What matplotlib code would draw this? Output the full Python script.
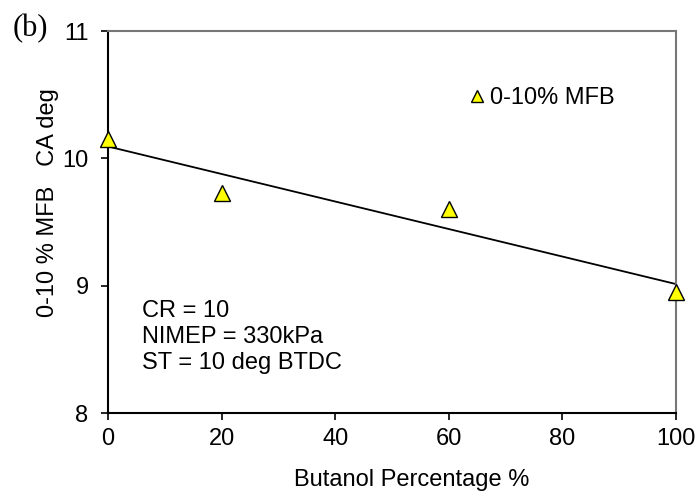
import matplotlib.pyplot as plt
import numpy as np

plt.rcParams['font.family'] = ['Liberation Sans', 'DejaVu Sans']

butanol = [0, 20, 60, 100]
mfb_0_10 = [10.15, 9.73, 9.6, 8.95]

fig = plt.figure(figsize=(6.97, 4.93), dpi=100)
ax = fig.add_axes([0.155, 0.162, 0.815, 0.775])

# linear trend line
k, b = np.polyfit(butanol, mfb_0_10, 1)
xs = np.array([0, 100])
ax.plot(xs, k * xs + b, color='black', lw=1.3, zorder=2)
ax.plot(butanol, mfb_0_10, linestyle='none', marker='^', ms=11,
        mfc='#ffff00', mec='black', mew=1.0, clip_on=False, zorder=3,
        label='0-10% MFB')

ax.set_xlim(0, 100)
ax.set_ylim(8, 11)
ax.set_xticks([0, 20, 40, 60, 80, 100])
ax.set_yticks([8, 9, 10, 11])
ax.tick_params(direction='out', length=5, width=1.2, labelsize=17)
ax.tick_params(axis='y', pad=9)
ax.tick_params(axis='x', pad=6)
for s in ['left', 'bottom']:
    ax.spines[s].set_linewidth(1.5)
for s in ['top', 'right']:
    ax.spines[s].set_color('#777777')
    ax.spines[s].set_linewidth(1.5)

ax.set_xlabel('Butanol Percentage %', fontsize=17)
ax.xaxis.set_label_coords(0.534, -0.145)
ax.set_ylabel('0-10 % MFB   CA deg', fontsize=17)
ax.yaxis.set_label_coords(-0.087, 0.55)

ax.legend(loc='center left', bbox_to_anchor=(0.63, 0.825), frameon=False,
          fontsize=17, handletextpad=0.1, markerscale=0.75, handlelength=0.9,
          borderaxespad=0, borderpad=0)

ax.text(0.06, 0.295, 'CR = 10\nNIMEP = 330kPa\nST = 10 deg BTDC',
        transform=ax.transAxes, fontsize=17, va='top', linespacing=1.22)

fig.text(0.018, 0.927, '(b)', fontsize=22, family='Liberation Serif',
         va='baseline')

fig.savefig('out.png', dpi=100)
